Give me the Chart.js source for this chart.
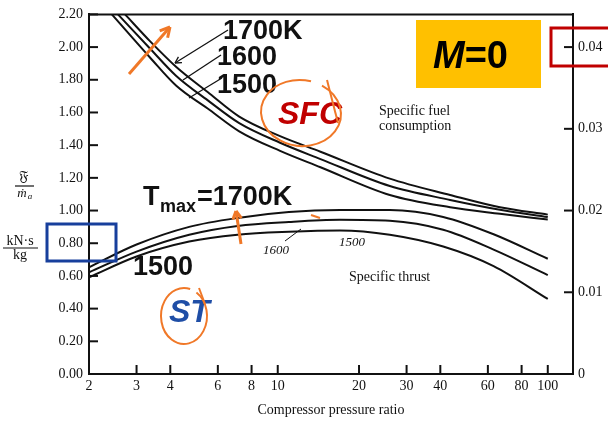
<!DOCTYPE html>
<html>
<head>
<meta charset="utf-8">
<script src="https://cdn.jsdelivr.net/npm/chart.js@4.4.1/dist/chart.umd.min.js"></script>
<style>
  html, body { margin: 0; padding: 0; background: #fff; }
  canvas { display: block; }
</style>
</head>
<body>
<canvas id="chart" width="608" height="425"></canvas>
<script>
// axis ticks
const xTicks = [2, 3, 4, 6, 8, 10, 20, 30, 40, 60, 80, 100];
const leftTicks = [0, 0.2, 0.4, 0.6, 0.8, 1.0, 1.2, 1.4, 1.6, 1.8, 2.0, 2.2];
const rightTicks = [0, 0.01, 0.02, 0.03, 0.04];

// specific thrust, kN s/kg (left axis)
const stX = [2, 3, 4.7, 7.1, 11, 17, 26, 41, 63, 100];
const st1700 = [0.653, 0.792, 0.900, 0.955, 0.991, 1.003, 1.003, 0.961, 0.855, 0.705];
const st1600 = [0.622, 0.749, 0.852, 0.906, 0.930, 0.943, 0.937, 0.882, 0.761, 0.605];
const st1500 = [0.592, 0.719, 0.810, 0.852, 0.870, 0.878, 0.852, 0.780, 0.660, 0.459];

// specific fuel consumption, kg/kN s (right axis)
const sfcX1700 = [2.72, 3.37, 4.2, 5.6, 7.2, 10.2, 14.4, 26, 43.5, 66.5, 100];
const sfc1700 = [0.0440, 0.0407, 0.0376, 0.0343, 0.0315, 0.0291, 0.0272, 0.0239, 0.0219, 0.0204, 0.0195];
const sfcX1600 = [2.56, 3.37, 4.2, 5.6, 7.2, 10.2, 14.4, 26, 43.5, 66.5, 100];
const sfc1600 = [0.0440, 0.0398, 0.0365, 0.0333, 0.0307, 0.0283, 0.0263, 0.0230, 0.0213, 0.0201, 0.0192];
const sfcX1500 = [2.43, 3.37, 4.2, 5.6, 7.2, 10.2, 14.4, 26, 43.5, 66.5, 100];
const sfc1500 = [0.0440, 0.0387, 0.0353, 0.0323, 0.0297, 0.0273, 0.0253, 0.0219, 0.0204, 0.0196, 0.0189];

const pts = (xs, ys) => xs.map((x, i) => ({x: x, y: ys[i]}));
const SERIF = "'Liberation Serif', 'DejaVu Serif', serif";
const SANS = "'Liberation Sans', Arial, sans-serif";

function curve(label, data, axis) {
    return {
        label: label,
        data: data,
        yAxisID: axis,
        borderColor: '#111',
        borderWidth: 2,
        pointRadius: 0,
        fill: false,
        cubicInterpolationMode: 'monotone'
    };
}

function seg(ctx, x1, y1, x2, y2) {
    ctx.beginPath(); ctx.moveTo(x1, y1); ctx.lineTo(x2, y2); ctx.stroke();
}

function arrow(ctx, x1, y1, x2, y2, size) {
    seg(ctx, x1, y1, x2, y2);
    const a = Math.atan2(y2 - y1, x2 - x1);
    seg(ctx, x2, y2, x2 - size * Math.cos(a - 0.5), y2 - size * Math.sin(a - 0.5));
    seg(ctx, x2, y2, x2 - size * Math.cos(a + 0.5), y2 - size * Math.sin(a + 0.5));
}

const overlay = {
    id: 'overlay',
    afterDraw(chart) {
        const ctx = chart.ctx;
        const a = chart.chartArea;
        const sx = chart.scales.x, sy = chart.scales.y, sy2 = chart.scales.y2;
        ctx.save();

        // inward tick marks and top frame
        ctx.strokeStyle = '#111';
        ctx.lineWidth = 2;
        leftTicks.forEach(v => { const y = sy.getPixelForValue(v); seg(ctx, a.left, y, a.left + 9, y); });
        rightTicks.forEach(v => { const y = sy2.getPixelForValue(v); seg(ctx, a.right - 9, y, a.right, y); });
        xTicks.slice(1).forEach(v => { const x = sx.getPixelForValue(v); seg(ctx, x, a.bottom, x, a.bottom - 9); });
        seg(ctx, a.left, a.top, a.right, a.top);

        // left axis title
        ctx.fillStyle = '#111';
        ctx.textAlign = 'center';
        ctx.textBaseline = 'alphabetic';
        ctx.font = "15px 'DejaVu Serif', serif";
        ctx.fillText('𝔉', 24, 181);
        ctx.lineWidth = 1.2;
        seg(ctx, 15, 186, 34, 186);
        ctx.font = 'italic 13px ' + SERIF;
        ctx.fillText('ṁ', 22, 197);
        ctx.font = 'italic 9px ' + SERIF;
        ctx.fillText('a', 30, 199);
        ctx.font = '14px ' + SERIF;
        ctx.fillText('kN·s', 20, 245);
        seg(ctx, 3, 248, 38, 248);
        ctx.fillText('kg', 20, 259);

        // original small labels
        ctx.textAlign = 'left';
        ctx.font = '14px ' + SERIF;
        ctx.fillText('Specific fuel', 379, 115);
        ctx.fillText('consumption', 379, 130);
        ctx.fillText('Specific thrust', 349, 281);
        ctx.font = 'italic 13px ' + SERIF;
        ctx.fillText('1600', 263, 254);
        ctx.fillText('1500', 339, 246);
        ctx.lineWidth = 1;
        seg(ctx, 285, 241, 301, 229);

        // temperature labels with pointers
        ctx.font = 'bold 27px ' + SANS;
        ctx.fillText('1700K', 223, 39);
        ctx.fillText('1600', 217, 65);
        ctx.fillText('1500', 217, 93);
        ctx.fillText('1500', 133, 275);
        ctx.fillText('T', 143, 205);
        ctx.fillText('=1700K', 197, 205);
        ctx.font = 'bold 18px ' + SANS;
        ctx.fillText('max', 160, 212);
        ctx.lineWidth = 1.3;
        arrow(ctx, 228, 30, 175, 63, 7);
        seg(ctx, 221, 55, 183, 80);
        seg(ctx, 222, 78, 189, 98);

        // SFC / ST marks
        ctx.font = 'bold italic 32px ' + SANS;
        ctx.fillStyle = '#c00000';
        ctx.fillText('SFC', 278, 124);
        ctx.fillStyle = '#1f4ea6';
        ctx.fillText('ST', 169, 322);

        ctx.strokeStyle = '#f07828';
        ctx.lineWidth = 2;
        ctx.beginPath();
        ctx.ellipse(301, 113, 40, 33, 0.1, -1.1, 2 * Math.PI - 1.4);
        ctx.stroke();
        seg(ctx, 327, 80, 338, 123);
        ctx.beginPath();
        ctx.ellipse(184, 316, 23, 28, 0, -1.0, 2 * Math.PI - 1.3);
        ctx.stroke();
        seg(ctx, 199, 288, 205, 304);

        ctx.lineWidth = 3;
        arrow(ctx, 129, 74, 170, 27, 11);
        arrow(ctx, 241, 244, 236, 211, 9);
        ctx.lineWidth = 2;
        seg(ctx, 311, 215, 320, 218);

        // M=0 box
        ctx.fillStyle = '#ffc000';
        ctx.fillRect(416, 20, 125, 68);
        ctx.fillStyle = '#000';
        ctx.font = 'bold italic 38px ' + SANS;
        ctx.fillText('M', 433, 68);
        const mw = ctx.measureText('M').width;
        ctx.font = 'bold 38px ' + SANS;
        ctx.fillText('=0', 433 + mw, 68);

        // highlight boxes
        ctx.lineWidth = 3;
        ctx.strokeStyle = '#c00000';
        ctx.strokeRect(551, 28, 62, 38);
        ctx.strokeStyle = '#173f9c';
        ctx.strokeRect(47, 224, 69, 37);

        ctx.restore();
    }
};

new Chart(document.getElementById('chart'), {
    type: 'line',
    data: {
        datasets: [
            curve('ST 1700K', pts(stX, st1700), 'y'),
            curve('ST 1600K', pts(stX, st1600), 'y'),
            curve('ST 1500K', pts(stX, st1500), 'y'),
            curve('SFC 1700K', pts(sfcX1700, sfc1700), 'y2'),
            curve('SFC 1600K', pts(sfcX1600, sfc1600), 'y2'),
            curve('SFC 1500K', pts(sfcX1500, sfc1500), 'y2')
        ]
    },
    plugins: [overlay],
    options: {
        responsive: false,
        animation: false,
        devicePixelRatio: 1,
        layout: {padding: {top: 10, left: 0, right: 0, bottom: 0}},
        plugins: {legend: {display: false}, tooltip: {enabled: false}},
        scales: {
            x: {
                type: 'logarithmic',
                min: 2,
                max: 124,
                afterBuildTicks: s => { s.ticks = xTicks.map(v => ({value: v})); },
                afterFit: s => { s.height = 51; },
                grid: {display: false, drawTicks: false},
                border: {display: true, color: '#111', width: 2},
                ticks: {
                    autoSkip: false, maxRotation: 0, padding: 4, color: '#111',
                    font: {family: SERIF, size: 14},
                    callback: v => String(v)
                },
                title: {
                    display: true, text: 'Compressor pressure ratio', color: '#111',
                    font: {family: SERIF, size: 14}, padding: {top: 0, bottom: 6}
                }
            },
            y: {
                position: 'left',
                min: 0,
                max: 2.2,
                afterBuildTicks: s => { s.ticks = leftTicks.map(v => ({value: v})); },
                afterFit: s => { s.width = 89; },
                grid: {display: false, drawTicks: false},
                border: {display: true, color: '#111', width: 2},
                ticks: {
                    padding: 6, color: '#111',
                    font: {family: SERIF, size: 14},
                    callback: v => v.toFixed(2)
                }
            },
            y2: {
                position: 'right',
                min: 0,
                max: 0.044,
                afterBuildTicks: s => { s.ticks = rightTicks.map(v => ({value: v})); },
                afterFit: s => { s.width = 35; },
                grid: {display: false, drawTicks: false},
                border: {display: true, color: '#111', width: 2},
                ticks: {
                    padding: 5, color: '#111',
                    font: {family: SERIF, size: 14},
                    callback: v => (v === 0 ? '0' : v.toFixed(2))
                }
            }
        }
    }
});
</script>
</body>
</html>
